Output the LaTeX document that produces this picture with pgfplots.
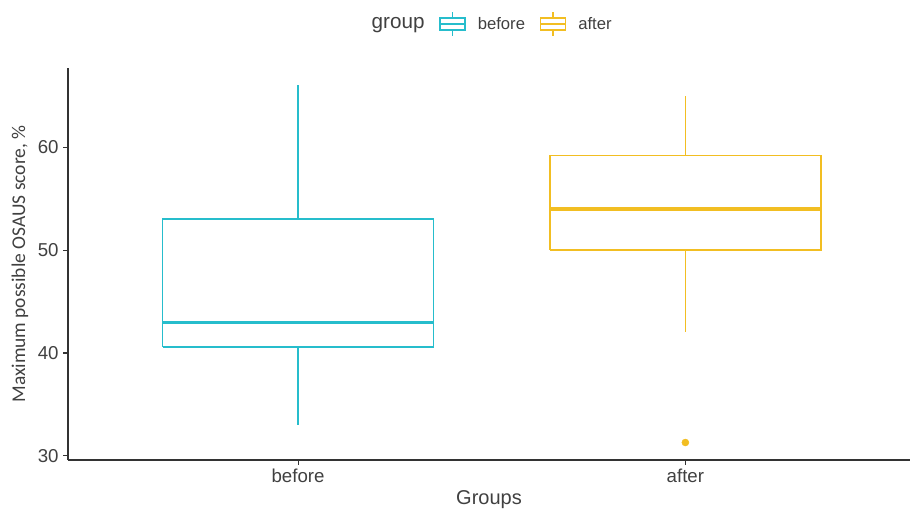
\documentclass[border=0pt]{standalone}
\usepackage{pgfplots}
\pgfplotsset{compat=1.18}
\usepackage{fontspec}
\setmainfont{Liberation Sans}
\newfontfamily\labfont{Carlito}
\definecolor{cyanc}{HTML}{26BDCC}
\definecolor{yellowc}{HTML}{F2BE22}
\definecolor{axc}{HTML}{333333}
\pgfplotsset{
  boxlegend/.style={legend image code/.code={
    \draw[##1] (0pt,-4.5pt) rectangle (18.75pt,4.5pt);
    \draw[##1] (0pt,0pt)--(18.75pt,0pt);
    \draw[##1] (9.375pt,4.5pt)--(9.375pt,9.2pt);
    \draw[##1] (9.375pt,-4.5pt)--(9.375pt,-9.2pt);}},
}
\begin{document}
\begin{tikzpicture}
\useasboundingbox (-51pt,-39pt) rectangle (631.5pt,345pt);
\begin{axis}[
  at={(0,0)}, anchor=south west,
  scale only axis, width=631.5pt, height=294pt,
  xmin=0.406, xmax=2.58, ymin=29.6, ymax=67.7,
  axis x line*=bottom, axis y line*=left,
  axis line style={-, draw=axc, line width=0.9pt},
  xtick={1,2}, xticklabels={before,after},
  ytick={30,40,50,60},
  tick style={draw=axc, line width=0.8pt},
  tick align=outside, major tick length=3.5pt,
  ticklabel style={font=\fontsize{14}{16}\selectfont, text=black!75},
  /pgf/number format/assume math mode=true,
  xlabel={Groups},
  ylabel={\labfont Maximum possible OSAUS score, \%},
  xlabel style={font=\fontsize{15}{17}\selectfont, text=black!75, at={(axis description cs:0.5,0)}, anchor=center, yshift=-30pt},
  ylabel style={font=\fontsize{14.6}{16}\selectfont, text=black!75, at={(axis description cs:-0.057,0.5)}, anchor=center, rotate=0},
  clip=false,
  legend columns=3,
  legend style={at={(axis description cs:0.5,1)}, anchor=center, xshift=-1.5pt, yshift=33pt, draw=none, fill=none,
    font=\fontsize{12.5}{14}\selectfont, text=black!75,
    /tikz/every odd column/.append style={column sep=7pt},
    /tikz/every even column/.append style={column sep=9pt}},
]
\addlegendimage{empty legend}
\addlegendentry{\fontsize{15.5}{17}\selectfont group\hspace{-2pt}}
\addlegendimage{draw=cyanc, line width=1.2pt, boxlegend}
\addlegendentry{before}
\addlegendimage{draw=yellowc, line width=1.2pt, boxlegend}
\addlegendentry{after}

% before: lw 33, q1 40.6, med 43, q3 53, uw 66
\addplot[draw=cyanc, line width=1.25pt, forget plot] coordinates {(0.65,40.6) (1.35,40.6) (1.35,53) (0.65,53) (0.65,40.6)};
\addplot[draw=cyanc, line width=2.4pt, forget plot] coordinates {(0.65,43) (1.35,43)};
\addplot[draw=cyanc, line width=1.25pt, forget plot] coordinates {(1,53) (1,66)};
\addplot[draw=cyanc, line width=1.25pt, forget plot] coordinates {(1,40.6) (1,33)};
% after: lw 42, q1 50, med 54, q3 59.2, uw 65, outlier 31.3
\addplot[draw=yellowc, line width=1.25pt, forget plot] coordinates {(1.65,50) (2.35,50) (2.35,59.2) (1.65,59.2) (1.65,50)};
\addplot[draw=yellowc, line width=2.4pt, forget plot] coordinates {(1.65,54) (2.35,54)};
\addplot[draw=yellowc, line width=1.25pt, forget plot] coordinates {(2,59.2) (2,65)};
\addplot[draw=yellowc, line width=1.25pt, forget plot] coordinates {(2,50) (2,42)};
\addplot[only marks, mark=*, mark size=2.6pt, color=yellowc, forget plot]
  coordinates {(2,31.3)};
\end{axis}
\end{tikzpicture}
\end{document}
